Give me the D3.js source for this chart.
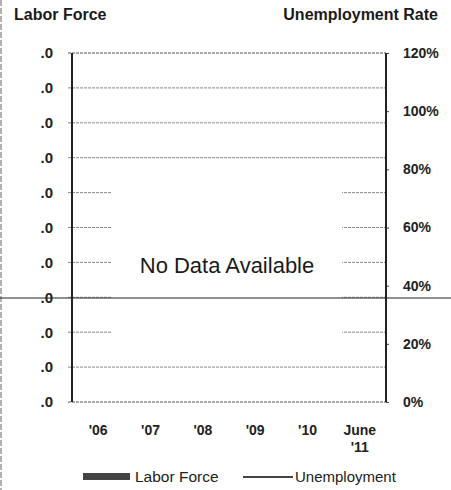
<!DOCTYPE html>
<html>
<head>
<meta charset="utf-8">
<script src="https://cdn.jsdelivr.net/npm/d3@7"></script>
<style>
  html, body { margin: 0; padding: 0; background: #fff; }
  svg { display: block; font-family: "Liberation Sans", Arial, sans-serif; }
</style>
</head>
<body>
<script>
// Categories along the bottom axis
const categories = ["'06", "'07", "'08", "'09", "'10", "June\n'11"];
// Series values (no data reported for this period)
const laborForce = [];
const unemployment = [];
// Left axis tick values and their printed labels
const leftTickValues = [0, 1, 2, 3, 4, 5, 6, 7, 8, 9, 10];
const leftTickLabels = [".0", ".0", ".0", ".0", ".0", ".0", ".0", ".0", ".0", ".0", ".0"];
// Right axis (unemployment rate, %)
const rightTickValues = [0, 20, 40, 60, 80, 100, 120];
const rightTickLabels = ["0%", "20%", "40%", "60%", "80%", "100%", "120%"];
const noDataText = "No Data Available";

const W = 451, H = 490;
const plot = { left: 72, right: 386, top: 53, bottom: 402 };

const svg = d3.select("body").append("svg").attr("width", W).attr("height", H);

const x = d3.scaleBand().domain(categories).range([plot.left, plot.right]);
const yL = d3.scaleLinear().domain([0, 10]).range([plot.bottom, plot.top]);
const yR = d3.scaleLinear().domain([0, 120]).range([plot.bottom, plot.top]);

// page edge rule
svg.append("line")
  .attr("x1", 1).attr("x2", 1).attr("y1", 0).attr("y2", H)
  .attr("stroke", "#9a9a9a").attr("stroke-width", 1.5).attr("stroke-dasharray", "6,2");

// titles
svg.append("text").attr("x", 14).attr("y", 20)
  .attr("font-size", 16).attr("font-weight", "bold").attr("fill", "#1a1a1a")
  .text("Labor Force");
svg.append("text").attr("x", 438).attr("y", 20).attr("text-anchor", "end")
  .attr("font-size", 16).attr("font-weight", "bold").attr("fill", "#1a1a1a")
  .text("Unemployment Rate");

// horizontal gridlines for the left scale
const grid = svg.append("g");
grid.selectAll("line").data(leftTickValues).join("line")
  .attr("x1", plot.left - 4).attr("x2", plot.right)
  .attr("y1", d => yL(d)).attr("y2", d => yL(d))
  .attr("stroke", (d, i) => (i === 0 || i === leftTickValues.length - 1) ? "#555" : "#8a8a8a")
  .attr("stroke-width", 1)
  .attr("stroke-dasharray", "3,1");

// left axis labels
const leftAxis = d3.axisLeft(yL).tickValues(leftTickValues)
  .tickFormat((d, i) => leftTickLabels[i]).tickSize(0).tickPadding(19);
const gl = svg.append("g").attr("transform", `translate(${plot.left},0)`).call(leftAxis);
gl.select(".domain").remove();
gl.selectAll("text").attr("font-size", 15).attr("font-weight", "bold").attr("fill", "#222")
  .attr("font-family", "Liberation Sans, Arial, sans-serif");

// right axis labels
const rightAxis = d3.axisRight(yR).tickValues(rightTickValues)
  .tickFormat((d, i) => rightTickLabels[i]).tickSize(3).tickPadding(14);
const gr = svg.append("g").attr("transform", `translate(${plot.right},0)`).call(rightAxis);
gr.select(".domain").remove();
gr.selectAll("line").attr("stroke", "#444");
gr.selectAll("text").attr("font-size", 14).attr("font-weight", "bold").attr("fill", "#222")
  .attr("font-family", "Liberation Sans, Arial, sans-serif");

// series marks (empty when there is no data)
svg.append("g").selectAll("rect").data(laborForce).join("rect")
  .attr("x", (d, i) => x(categories[i]) + x.bandwidth() * 0.2)
  .attr("width", x.bandwidth() * 0.6)
  .attr("y", d => yL(d)).attr("height", d => yL(0) - yL(d))
  .attr("fill", "#555");
svg.append("path").datum(unemployment)
  .attr("fill", "none").attr("stroke", "#333").attr("stroke-width", 1.5)
  .attr("d", d3.line().x((d, i) => x(categories[i]) + x.bandwidth() / 2).y(d => yR(d)));

// vertical axis lines
svg.append("line").attr("x1", plot.left).attr("x2", plot.left)
  .attr("y1", plot.top).attr("y2", plot.bottom)
  .attr("stroke", "#222").attr("stroke-width", 2);
svg.append("line").attr("x1", plot.right).attr("x2", plot.right)
  .attr("y1", plot.top).attr("y2", plot.bottom)
  .attr("stroke", "#222").attr("stroke-width", 2);

// bottom category labels
const xl = svg.append("g").selectAll("text").data(categories).join("text")
  .attr("x", d => x(d) + x.bandwidth() / 2)
  .attr("y", 435)
  .attr("text-anchor", "middle")
  .attr("font-size", 14).attr("font-weight", "bold").attr("fill", "#222");
xl.each(function(d) {
  const lines = d.split("\n");
  d3.select(this).selectAll("tspan").data(lines).join("tspan")
    .attr("x", x(d) + x.bandwidth() / 2)
    .attr("dy", (l, i) => i === 0 ? 0 : 17)
    .text(l => l);
});

// no-data notice
const cx = (plot.left + plot.right) / 2 - 2;
svg.append("rect").attr("x", 111).attr("y", 176).attr("width", 231).attr("height", 172)
  .attr("fill", "#fff");
svg.append("text").attr("x", cx).attr("y", 273).attr("text-anchor", "middle")
  .attr("font-size", 22).attr("fill", "#1a1a1a").text(noDataText);

// horizontal page rule
svg.append("line").attr("x1", 0).attr("x2", W).attr("y1", 298).attr("y2", 298)
  .attr("stroke", "#222").attr("stroke-width", 1.2);

// legend
const lg = svg.append("g");
lg.append("rect").attr("x", 83).attr("y", 473).attr("width", 47).attr("height", 7)
  .attr("fill", "#444");
lg.append("text").attr("x", 135).attr("y", 482).attr("font-size", 15.5).attr("fill", "#222")
  .text("Labor Force");
lg.append("line").attr("x1", 243).attr("x2", 293).attr("y1", 477).attr("y2", 477)
  .attr("stroke", "#444").attr("stroke-width", 2);
lg.append("text").attr("x", 295).attr("y", 482).attr("font-size", 15).attr("fill", "#222")
  .text("Unemployment");
</script>
</body>
</html>
